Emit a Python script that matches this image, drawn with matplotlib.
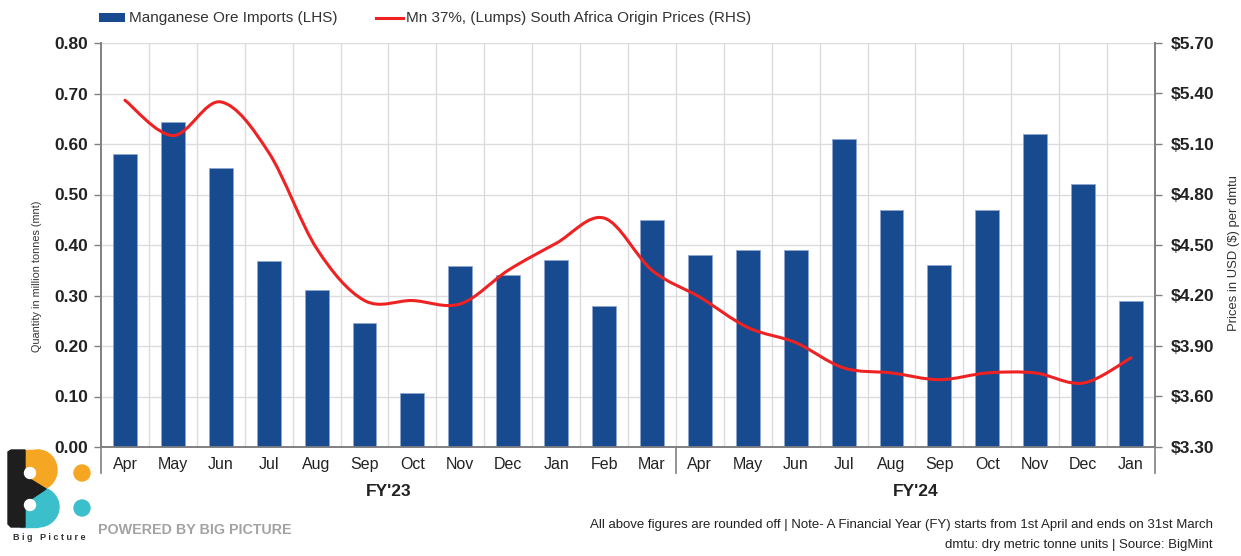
import matplotlib
matplotlib.use('Agg')
import matplotlib.pyplot as plt
from matplotlib.path import Path
from matplotlib.patches import PathPatch, Rectangle, Ellipse, Circle, Polygon
from matplotlib.lines import Line2D
import matplotlib.transforms as mtransforms

# ---------------- data ----------------
months = ['Apr', 'May', 'Jun', 'Jul', 'Aug', 'Sep', 'Oct', 'Nov', 'Dec', 'Jan', 'Feb', 'Mar',
          'Apr', 'May', 'Jun', 'Jul', 'Aug', 'Sep', 'Oct', 'Nov', 'Dec', 'Jan']
fiscal_years = ["FY'23", "FY'24"]
fy_month_counts = [12, 10]
imports_mnt = [0.58, 0.643, 0.553, 0.369, 0.31, 0.246, 0.106, 0.359, 0.34, 0.37, 0.28, 0.45,
               0.38, 0.39, 0.39, 0.61, 0.47, 0.36, 0.47, 0.62, 0.52, 0.29]
price_usd = [5.36, 5.15, 5.35, 5.05, 4.48, 4.17, 4.17, 4.15, 4.35, 4.51, 4.66, 4.35,
             4.19, 4.01, 3.92, 3.77, 3.74, 3.70, 3.74, 3.74, 3.68, 3.83]
left_ticks = [0.00, 0.10, 0.20, 0.30, 0.40, 0.50, 0.60, 0.70, 0.80]
right_ticks = [3.30, 3.60, 3.90, 4.20, 4.50, 4.80, 5.10, 5.40, 5.70]
legend_labels = ['Manganese Ore Imports (LHS)', 'Mn 37%, (Lumps) South Africa Origin Prices (RHS)']
left_label = 'Quantity in million tonnes (mnt)'
right_label = 'Prices in USD ($) per dmtu'
footnote1 = 'All above figures are rounded off | Note- A Financial Year (FY) starts from 1st April and ends on 31st March'
footnote2 = 'dmtu: dry metric tonne units | Source: BigMint'

# ---------------- style ----------------
BAR = '#174A8F'
RED = '#EE2222'
GRID = '#DCDCDC'
AXC = '#808080'
TXT = '#222222'
SANS = 'Liberation Sans'

W, H = 1241, 556
fig = plt.figure(figsize=(W / 100, H / 100), dpi=100)

def fx(x):
    return x / W

def fy(y):
    return 1 - y / H

L, R, T, B = 101, 1155, 43, 447
ax = fig.add_axes([fx(L), fy(B), fx(R) - fx(L), (B - T) / H])
ax2 = ax.twinx()

n = len(months)
xs = list(range(n))

ax.bar(xs, imports_mnt, width=0.5, color=BAR, edgecolor='#8FA6CF', linewidth=0.6, zorder=3)
ax.set_xlim(-0.5, n - 0.5)
ax.set_ylim(0, 0.80)
ax.set_yticks(left_ticks)
ax.set_yticklabels([f'{v:.2f}' for v in left_ticks], fontfamily=SANS, fontweight='bold',
                   fontsize=12.5, color=TXT)
ax.set_xticks(xs)
ax.set_xticklabels(months, fontfamily=SANS, fontsize=11.5, color=TXT)
ax.tick_params(axis='x', length=0, pad=7)
ax.tick_params(axis='y', length=5, width=1, color=AXC, pad=4)
ax.set_xticks([i + 0.5 for i in range(n - 1)], minor=True)
ax.tick_params(axis='x', which='minor', length=0)
ax.grid(axis='y', which='major', color=GRID, lw=1, zorder=0)
ax.grid(axis='x', which='minor', color=GRID, lw=1, zorder=0)
ax.set_axisbelow(True)
ax.spines['top'].set_visible(False)
ax2.spines['top'].set_visible(False)
for s in ['left', 'bottom', 'right']:
    for a in (ax, ax2):
        a.spines[s].set_color(AXC)
        a.spines[s].set_linewidth(1.2)
ax.set_ylabel(left_label, fontfamily=SANS, fontsize=7.8, color='#333333')
ax.yaxis.set_label_coords((42 - L) / (R - L), (B - 276) / (B - T))

# smooth line (Catmull-Rom through data points) on right axis
ax2.set_ylim(3.30, 5.70)
ax2.set_yticks(right_ticks)
ax2.set_yticklabels([f'${v:.2f}' for v in right_ticks], fontfamily=SANS, fontweight='bold',
                    fontsize=12.5, color=TXT)
ax2.tick_params(axis='y', length=5, width=1, color=AXC, pad=6)
ax2.set_ylabel(right_label, fontfamily=SANS, fontsize=9.4, color='#333333')
ax2.yaxis.set_label_coords((1228 - L) / (R - L), (B - 253) / (B - T))

pts = list(zip(xs, price_usd))
verts = [pts[0]]
codes = [Path.MOVETO]
for i in range(n - 1):
    p0 = pts[i - 1] if i > 0 else pts[i]
    p1 = pts[i]
    p2 = pts[i + 1]
    p3 = pts[i + 2] if i + 2 < n else pts[i + 1]
    c1 = (p1[0] + (p2[0] - p0[0]) / 6, p1[1] + (p2[1] - p0[1]) / 6)
    c2 = (p2[0] - (p3[0] - p1[0]) / 6, p2[1] - (p3[1] - p1[1]) / 6)
    verts += [c1, c2, p2]
    codes += [Path.CURVE4] * 3
ax2.add_patch(PathPatch(Path(verts, codes), facecolor='none', edgecolor=RED, lw=2.2,
                        capstyle='round', joinstyle='round', zorder=4))

# fiscal year separators and labels
trans = mtransforms.blended_transform_factory(ax.transData, ax.transAxes)
sep_depth = 26 / (B - T)
start = 0
bounds = [-0.5]
for cnt in fy_month_counts:
    bounds.append(start + cnt - 0.5)
    start += cnt
for b in bounds:
    ax.plot([b, b], [0, -sep_depth], transform=trans, color=AXC, lw=1.2, clip_on=False)
start = 0
for fy_lbl, cnt in zip(fiscal_years, fy_month_counts):
    center = start + (cnt - 1) / 2
    ax.text(center, -45 / (B - T), fy_lbl, transform=trans, ha='center', va='center',
            fontfamily=SANS, fontweight='bold', fontsize=12.5, color=TXT)
    start += cnt

# legend (manual)
fig.patches.append(Rectangle((fx(99), fy(22)), fx(125) - fx(99), 9 / H, transform=fig.transFigure,
                             facecolor=BAR, edgecolor='none'))
fig.text(fx(129), fy(18), legend_labels[0], ha='left', va='center', fontfamily=SANS,
         fontsize=11, color='#333333')
fig.lines.append(Line2D([fx(376), fx(403)], [fy(18), fy(18)], transform=fig.transFigure,
                        color=RED, lw=2.2))
fig.text(fx(406), fy(18), legend_labels[1], ha='left', va='center', fontfamily=SANS,
         fontsize=11, color='#333333')

# footnotes
fig.text(fx(1213), fy(525), footnote1, ha='right', va='center', fontfamily=SANS,
         fontsize=9.5, color=TXT)
fig.text(fx(1213), fy(545), footnote2, ha='right', va='center', fontfamily=SANS,
         fontsize=9.5, color=TXT)
fig.text(fx(98), fy(530), 'POWERED BY BIG PICTURE', ha='left', va='center', fontfamily=SANS,
         fontweight='bold', fontsize=10.3, color='#A3A3A3')

# logo
lax = fig.add_axes([0, 0, 110 / W, 116 / H])
lax.set_xlim(0, 110)
lax.set_ylim(556, 440)
lax.axis('off')
ORANGE = '#F5A623'
TEAL = '#3BC0CB'
lax.add_patch(Ellipse((38, 470), 38, 40, color=ORANGE))
lax.add_patch(Rectangle((20, 450), 18, 40, color=ORANGE))
lax.add_patch(Ellipse((38, 507), 42, 40, color=TEAL))
lax.add_patch(Rectangle((20, 488), 18, 39, color=TEAL))
lax.add_patch(Polygon([(8, 452), (11, 450), (25, 450), (25, 476), (46, 489), (25, 503),
                       (25, 527), (11, 527), (8, 524)], closed=True, color='#1E1E1E'))
lax.add_patch(Circle((30, 473), 5.5, color='white'))
lax.add_patch(Circle((30, 505), 5.5, color='white'))
lax.add_patch(Circle((82, 473), 8, color=ORANGE))
lax.add_patch(Circle((82, 508), 8, color=TEAL))
lax.text(49, 537, 'B i g   P i c t u r e', ha='center', va='center', fontfamily=SANS,
         fontweight='bold', fontsize=6.5, color='#333333')

fig.savefig('out.png', dpi=100)
